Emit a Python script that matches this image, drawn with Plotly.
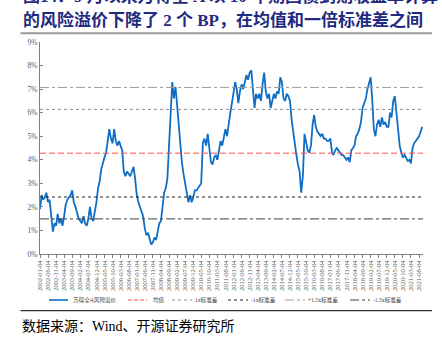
import plotly.graph_objects as go

# Monthly Wind All-A equity risk premium (%), one row per year, 2002-01 .. 2021-10
erp_by_year = {
    2002: [1.9, 2.5, 2.3, 2.4, 2.6, 2.2, 2.3, 1.5, 0.95, 1.3, 1.2, 1.7],
    2003: [1.3, 1.5, 1.2, 1.6, 2.1, 2.3, 2.4, 2.5, 2.7, 2.2, 2.0, 1.7],
    2004: [1.5, 1.4, 1.3, 1.6, 1.3, 1.2, 1.5, 2.0, 1.5, 1.4, 1.8, 2.2],
    2005: [2.8, 3.1, 3.6, 3.9, 4.1, 4.3, 4.8, 5.3, 4.9, 4.7, 5.3, 4.8],
    2006: [4.6, 4.8, 4.6, 4.4, 3.5, 3.3, 3.5, 3.4, 3.3, 3.5, 3.7, 3.2],
    2007: [2.5, 2.2, 2.0, 1.8, 1.6, 1.1, 0.8, 0.9, 0.6, 0.4, 0.5, 0.7],
    2008: [0.6, 0.9, 1.3, 1.4, 2.0, 2.6, 2.8, 3.2, 4.6, 6.2, 7.3, 6.6],
    2009: [7.1, 6.3, 5.5, 4.7, 3.9, 3.4, 3.0, 2.6, 2.2, 2.5, 2.2, 2.4],
    2010: [2.7, 2.7, 2.8, 2.9, 3.0, 4.7, 4.9, 4.6, 5.1, 4.5, 3.9, 3.8],
    2011: [4.1, 4.2, 4.0, 4.4, 4.8, 4.6, 5.0, 5.3, 5.0, 5.6, 6.0, 6.4],
    2012: [6.9, 7.3, 7.0, 6.4, 6.9, 7.2, 7.0, 7.3, 7.6, 7.4, 7.7, 7.8],
    2013: [7.0, 6.2, 6.8, 6.6, 6.8, 6.5, 7.2, 7.7, 6.9, 6.6, 6.8, 6.2],
    2014: [6.5, 6.8, 6.6, 6.9, 6.8, 7.5, 7.3, 6.6, 6.5, 6.8, 6.7, 6.5],
    2015: [5.7, 5.1, 4.8, 4.2, 3.8, 3.5, 2.6, 3.3, 5.1, 4.8, 4.4, 4.3],
    2016: [4.6, 5.5, 5.9, 5.4, 5.2, 5.1, 5.0, 5.1, 4.9, 4.9, 4.8, 4.8],
    2017: [4.9, 4.3, 4.2, 4.4, 4.5, 4.4, 4.3, 4.2, 4.2, 4.1, 4.0, 4.1],
    2018: [3.9, 4.4, 4.5, 4.6, 5.0, 5.1, 5.3, 5.6, 6.2, 6.4, 6.6, 7.0],
    2019: [7.3, 7.5, 6.6, 5.3, 5.0, 5.5, 5.7, 5.4, 5.8, 5.5, 5.6, 5.4],
    2020: [5.4, 6.0, 5.8, 6.5, 6.7, 6.0, 5.2, 4.6, 4.3, 4.1, 4.2, 4.1],
    2021: [3.95, 4.0, 3.85, 4.5, 4.7, 4.8, 4.9, 5.0, 5.2, 5.4],
}

# Summary statistics of the series (%)
erp_mean = 4.28
erp_std = 1.86

# Band definitions: (legend label, multiple of std, colour, dash, width)
bands = [
    ("1x标准差", 1.0, "#8C8C8C", "dot", 1.0),
    ("-1x标准差", -1.0, "#262626", "dot", 1.0),
    ("+1.5x标准差", 1.5, "#9E9E9E", "dashdot", 1.0),
    ("-1.5x标准差", -1.5, "#404040", "dashdot", 1.0),
]

series_name = "万得全A风险溢价"
mean_name = "均值"

# X tick labels every five months
tick_labels = [
    "2002-01-04", "2002-06-04", "2002-11-04", "2003-04-04", "2003-09-04", "2004-02-04",
    "2004-07-04", "2004-12-04", "2005-05-04", "2005-10-04", "2006-03-04", "2006-08-04",
    "2007-01-04", "2007-06-04", "2007-11-04", "2008-04-04", "2008-09-04", "2009-02-04",
    "2009-07-04", "2009-12-04", "2010-05-04", "2010-10-04", "2011-03-04", "2011-08-04",
    "2012-01-04", "2012-06-04", "2012-11-04", "2013-04-04", "2013-09-04", "2014-02-04",
    "2014-07-04", "2014-12-04", "2015-05-04", "2015-10-04", "2016-03-04", "2016-08-04",
    "2017-01-04", "2017-06-04", "2017-11-04", "2018-04-04", "2018-09-04", "2019-02-04",
    "2019-07-04", "2019-12-04", "2020-05-04", "2020-10-04", "2021-03-04", "2021-08-04",
]
y_ticks = list(range(0, 10))

title_line1 = "图14：9 月以来万得全 A 以 10 年期国债到期收益率计算"
title_line2 = "的风险溢价下降了 2 个 BP，在均值和一倍标准差之间"
source_text = "数据来源：Wind、开源证券研究所"

dates, values = [], []
for year, vals in erp_by_year.items():
    for i, v in enumerate(vals):
        dates.append(f"{year}-{i + 1:02d}-04")
        values.append(v)

x_start, x_end = "2002-01-04", "2021-10-18"

SERIF_CJK = "Liberation Serif, Noto Sans CJK SC"
BLUE = "#0F6FC6"
RED = "#FF4F4F"

fig = go.Figure()
fig.add_trace(go.Scatter(x=dates, y=values, mode="lines", name=series_name,
                         line=dict(color=BLUE, width=1.8), showlegend=False))
fig.add_trace(go.Scatter(x=[x_start, x_end], y=[erp_mean, erp_mean], mode="lines",
                         name=mean_name, line=dict(color=RED, width=1.0, dash="6px,3px"),
                         showlegend=False))
for label, k, color, dash, w in bands:
    lvl = erp_mean + k * erp_std
    fig.add_trace(go.Scatter(x=[x_start, x_end], y=[lvl, lvl], mode="lines", name=label,
                             line=dict(color=color, width=w, dash=dash), showlegend=False))

# Page geometry (pixels) -> paper coordinates
W, H = 442, 346
L, R, T, B = 40, 19, 42, 92
PW, PH = W - L - R, H - T - B


def xp(px):
    return (px - L) / PW


def yp(py):
    return (H - B - py) / PH


shapes, annots = [], []

# Header and footer rules
shapes.append(dict(type="line", xref="paper", yref="paper", x0=xp(20.5), x1=xp(432),
                   y0=yp(33.3), y1=yp(33.3), line=dict(color="#9A9A9A", width=2)))
shapes.append(dict(type="line", xref="paper", yref="paper", x0=xp(20.5), x1=xp(432),
                   y0=yp(310.7), y1=yp(310.7), line=dict(color="#000000", width=1)))

annots.append(dict(text=f"<b>{title_line1}</b>", xref="paper", yref="paper", x=xp(21), y=yp(-4),
                   xanchor="left", yanchor="middle", showarrow=False,
                   font=dict(family=SERIF_CJK, size=17, color="#1F2A80")))
annots.append(dict(text=f"<b>{title_line2}</b>", xref="paper", yref="paper", x=xp(21), y=yp(20),
                   xanchor="left", yanchor="middle", showarrow=False,
                   font=dict(family=SERIF_CJK, size=17, color="#1F2A80")))
annots.append(dict(text=source_text, xref="paper", yref="paper", x=xp(20), y=yp(326),
                   xanchor="left", yanchor="middle", showarrow=False,
                   font=dict(family=SERIF_CJK, size=14, color="#000000")))

# Legend row drawn as swatches + labels
legend_items = [
    (series_name, BLUE, "solid", 1.6, 49, 68, 71),
    (mean_name, RED, "4px,2px", 1.0, 128, 147, 151),
    (bands[0][0], bands[0][2], "dot", 1.0, 172, 192, 193),
    (bands[1][0], bands[1][2], "dot", 1.0, 228, 248, 249),
    (bands[2][0], bands[2][2], "dashdot", 1.0, 285, 305, 306),
    (bands[3][0], bands[3][2], "dashdot", 1.0, 350, 370, 371),
]
LEG_Y = 300
for text, color, dash, w, sx0, sx1, tx in legend_items:
    shapes.append(dict(type="line", xref="paper", yref="paper", x0=xp(sx0), x1=xp(sx1),
                       y0=yp(LEG_Y), y1=yp(LEG_Y), line=dict(color=color, width=w, dash=dash)))
    annots.append(dict(text=text, xref="paper", yref="paper", x=xp(tx), y=yp(LEG_Y),
                       xanchor="left", yanchor="middle", showarrow=False,
                       font=dict(family=SERIF_CJK, size=5.6, color="#404040")))

fig.update_layout(
    width=W, height=H,
    margin=dict(l=L, r=R, t=T, b=B),
    paper_bgcolor="white", plot_bgcolor="white",
    showlegend=False,
    shapes=shapes, annotations=annots,
    xaxis=dict(type="date", range=[x_start, x_end], tickvals=tick_labels, ticktext=tick_labels,
               tickangle=-90, ticks="outside", ticklen=3, tickcolor="#808080",
               showline=True, linecolor="#808080", linewidth=1, showgrid=False, zeroline=False,
               tickfont=dict(family="Liberation Serif", size=6.5, color="#595959")),
    yaxis=dict(range=[0, 9], tickvals=y_ticks, ticktext=[f"{v}%" for v in y_ticks],
               ticks="inside", ticklen=3, tickcolor="#808080",
               showline=True, linecolor="#808080", linewidth=1, showgrid=False, zeroline=False,
               tickfont=dict(family="Liberation Serif", size=7.5, color="#595959")),
)

fig.write_html("out.html")
